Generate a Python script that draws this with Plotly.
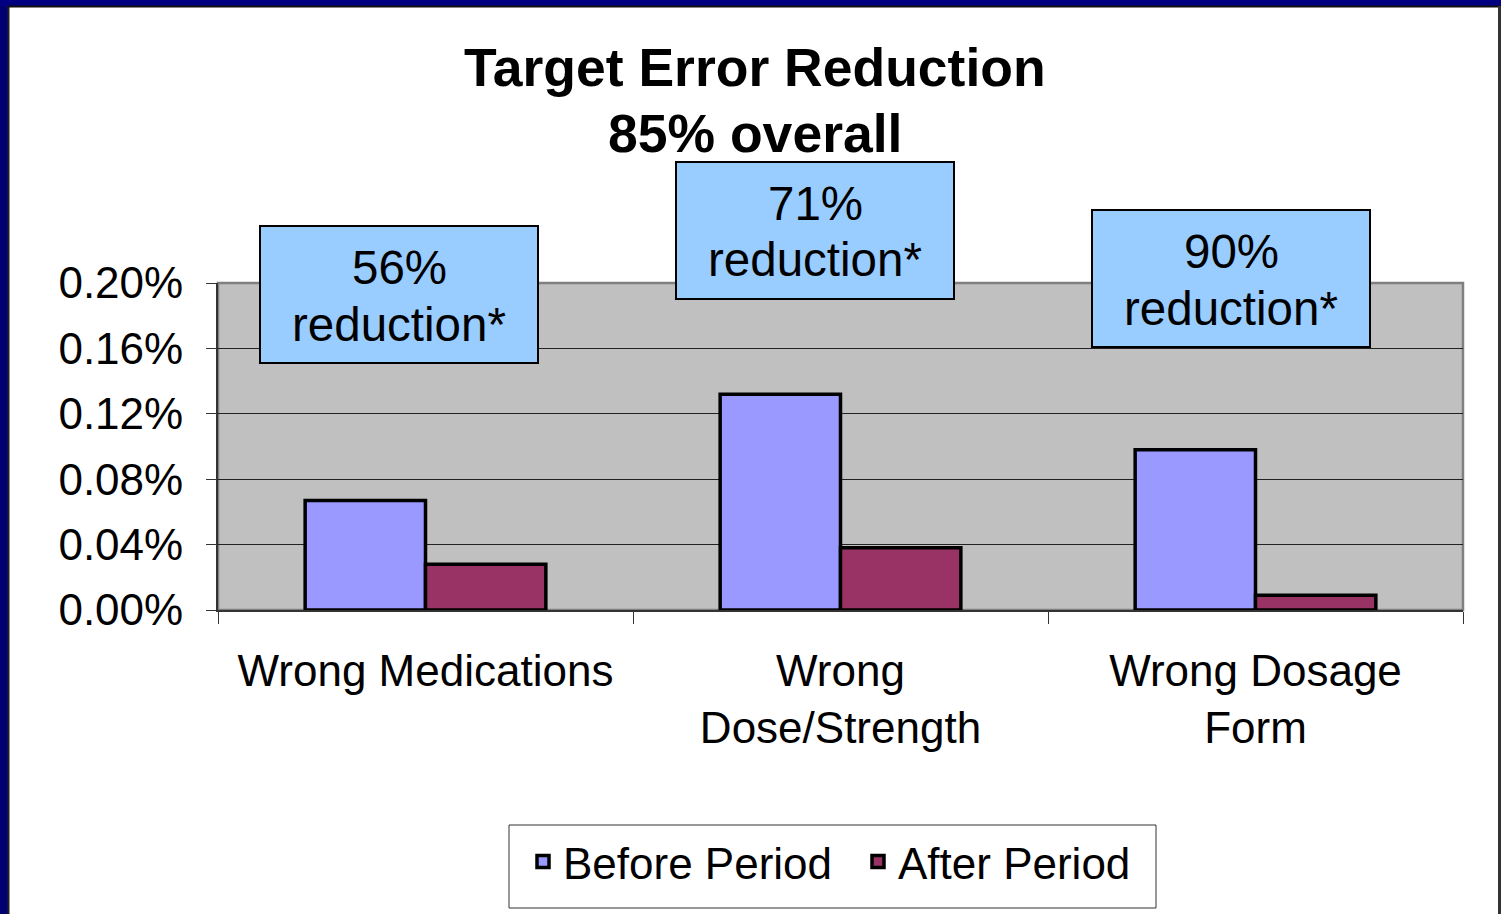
import plotly.graph_objects as go

categories = ["Wrong Medications", "Wrong<br>Dose/Strength", "Wrong Dosage<br>Form"]
before_vals = [0.00067, 0.00132, 0.00098]
after_vals = [0.00028, 0.00038, 0.00009]
series_names = ["Before Period", "After Period"]
box_line1 = ["56%", "71%", "90%"]
box_line2 = ["reduction*", "reduction*", "reduction*"]
title_lines = ["Target Error Reduction", "85% overall"]
y_ticks = [0, 0.0004, 0.0008, 0.0012, 0.0016, 0.0020]

FONT = "Liberation Sans, Arial, sans-serif"

# plot area geometry (pixels)
L, R, T, B = 218, 1463, 283, 610
W, H = 1501, 914
pw, ph = R - L, B - T

def px_x(p):
    return (p - L) / pw

def px_y(p):
    return (B - p) / ph

fig = go.Figure()
fig.add_trace(go.Bar(
    x=categories, y=before_vals, name=series_names[0],
    marker=dict(color="#9999FF", line=dict(color="black", width=3.5)),
))
fig.add_trace(go.Bar(
    x=categories, y=after_vals, name=series_names[1],
    marker=dict(color="#993366", line=dict(color="black", width=3.5)),
))

annotations = []
shapes = []

# title lines
for txt, cy in zip(title_lines, [67, 133]):
    annotations.append(dict(
        text="<b>%s</b>" % txt, xref="paper", yref="paper",
        x=px_x(755), y=px_y(cy), xanchor="center", yanchor="middle",
        showarrow=False, font=dict(family=FONT, size=53.5, color="black"),
    ))

# reduction boxes
box_rects = [(260, 226, 538, 363), (676, 162, 954, 299), (1092, 210, 1370, 347)]
for t1, t2, (x0, y0, x1, y1) in zip(box_line1, box_line2, box_rects):
    shapes.append(dict(
        type="rect", xref="paper", yref="paper",
        x0=px_x(x0), x1=px_x(x1), y0=px_y(y1), y1=px_y(y0),
        fillcolor="#99CCFF", line=dict(color="black", width=2), layer="above",
    ))
    cx = (x0 + x1) / 2
    for txt, cy in ((t1, y0 + 41), (t2, y0 + 98)):
        annotations.append(dict(
            text=txt, xref="paper", yref="paper", x=px_x(cx), y=px_y(cy),
            xanchor="center", yanchor="middle", showarrow=False,
            font=dict(family=FONT, size=47.5, color="black"),
        ))

shapes += [
    # plot-area frame
    dict(type="rect", xref="paper", yref="paper", x0=0, x1=1, y0=0, y1=1,
         line=dict(color="#808080", width=2.5), layer="below"),
    # legend frame
    dict(type="rect", xref="paper", yref="paper",
         x0=px_x(509), x1=px_x(1156), y0=px_y(908), y1=px_y(825),
         fillcolor="white", line=dict(color="#333333", width=1), layer="below"),
    # navy slide border: left
    dict(type="rect", xref="paper", yref="paper",
         x0=px_x(-20), x1=px_x(8), y0=px_y(950), y1=px_y(-20),
         fillcolor="#000070", line=dict(width=0), layer="above"),
    # top
    dict(type="rect", xref="paper", yref="paper",
         x0=px_x(-20), x1=px_x(1520), y0=px_y(6), y1=px_y(-20),
         fillcolor="#000080", line=dict(width=0), layer="above"),
    # thin dark lines
    dict(type="line", xref="paper", yref="paper",
         x0=px_x(8.5), x1=px_x(8.5), y0=px_y(950), y1=px_y(6),
         line=dict(color="#222222", width=2), layer="above"),
    dict(type="line", xref="paper", yref="paper",
         x0=px_x(8), x1=px_x(1520), y0=px_y(6.5), y1=px_y(6.5),
         line=dict(color="#111111", width=2), layer="above"),
    dict(type="line", xref="paper", yref="paper",
         x0=px_x(1499.5), x1=px_x(1499.5), y0=px_y(950), y1=px_y(6),
         line=dict(color="#333333", width=3), layer="above"),
]

fig.update_layout(
    width=W, height=H,
    margin=dict(l=L, r=W - R, t=T, b=H - B, pad=0),
    paper_bgcolor="white", plot_bgcolor="#C0C0C0",
    barmode="group", bargap=0.42, bargroupgap=0,
    font=dict(family=FONT, color="black"),
    xaxis=dict(
        type="category", range=[-0.5, 2.5],
        tickson="boundaries", ticks="outside", ticklen=12, tickwidth=1,
        tickcolor="#333333", showline=True, linecolor="#333333", linewidth=2,
        showgrid=False, tickfont=dict(family=FONT, size=44, color="black"),
        ticklabelstandoff=21,
    ),
    yaxis=dict(
        range=[0, 0.002], tickvals=y_ticks, tickformat=".2%",
        ticks="outside", ticklen=10, tickwidth=1, tickcolor="#333333",
        showline=True, linecolor="#333333", linewidth=2,
        showgrid=True, gridcolor="#222222", gridwidth=1,
        zeroline=False,
        tickfont=dict(family=FONT, size=44, color="black"),
        ticklabelstandoff=14,
    ),
    legend=dict(
        orientation="h", x=px_x(858), xanchor="center",
        y=px_y(862), yanchor="middle",
        borderwidth=0, bgcolor="rgba(0,0,0,0)",
        font=dict(family=FONT, size=44, color="black"),
        traceorder="normal", entrywidth=290,
    ),
    annotations=annotations,
    shapes=shapes,
    showlegend=True,
)

fig.write_html(
    "out.html",
    config={"displayModeBar": False},
    post_script="document.body.style.margin='0';document.body.style.overflow='hidden';",
)
